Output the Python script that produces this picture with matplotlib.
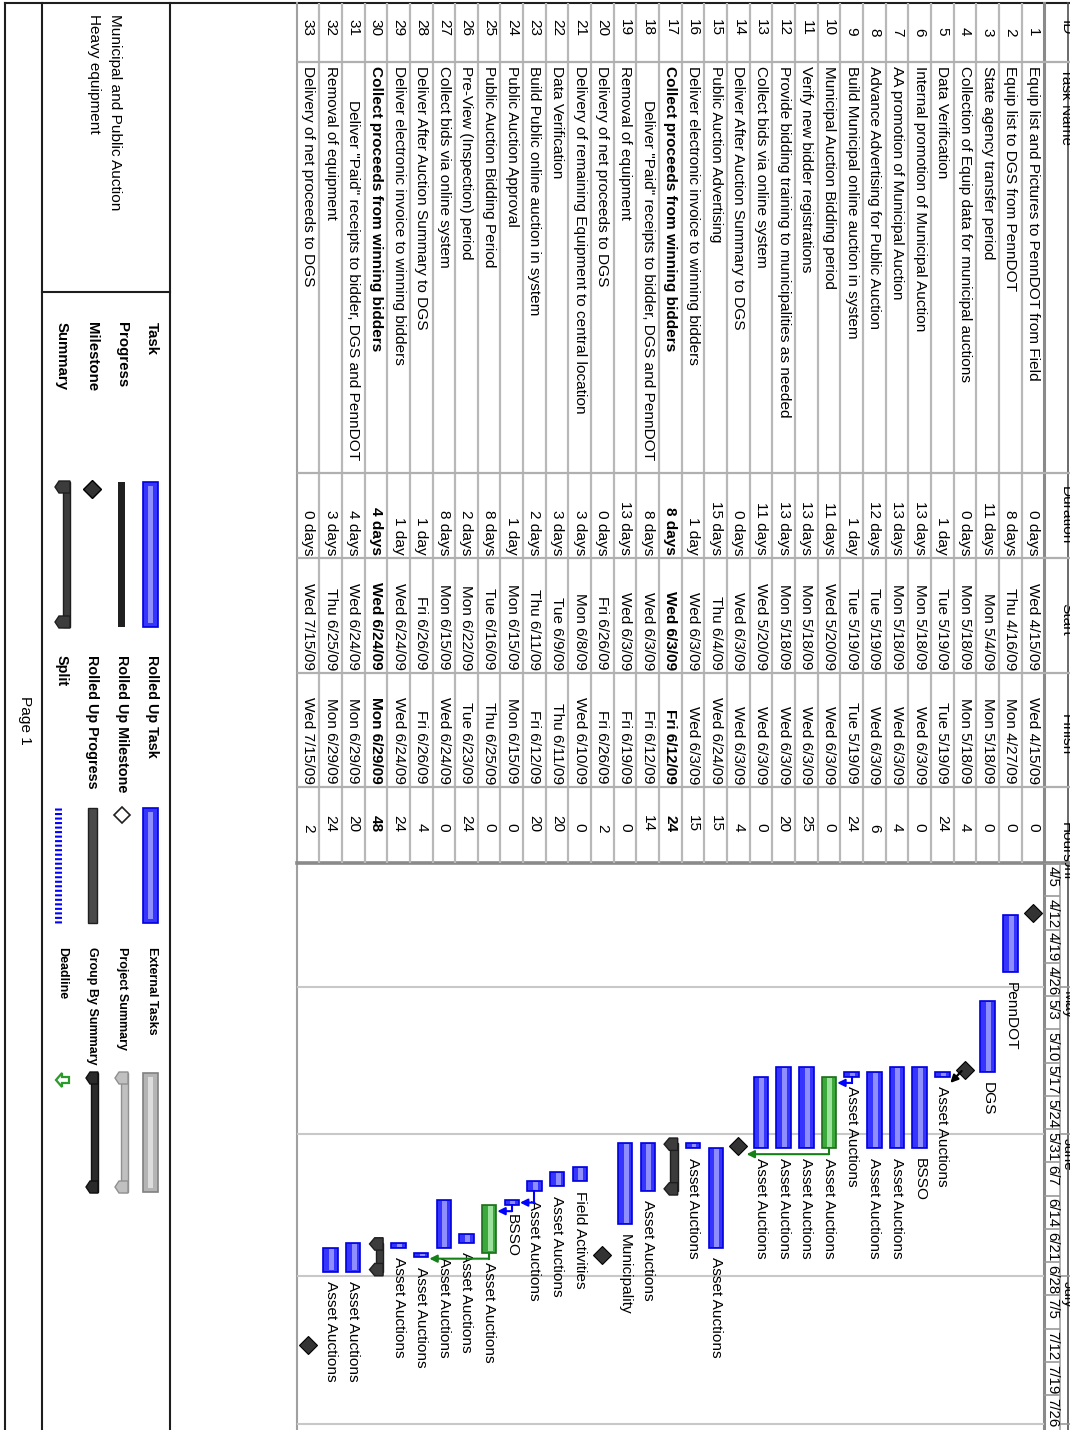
import numpy as np
import pandas as pd
import matplotlib
matplotlib.use("Agg")
import matplotlib.pyplot as plt
import matplotlib.dates as mdates
from matplotlib.patches import Polygon, Rectangle

plt.rcParams["font.family"] = ["Liberation Sans", "DejaVu Sans"]

# ---- task table ----
task_names = [
    "Equip list and Pictures to PennDOT from Field",
    "Equip list to DGS from PennDOT",
    "State agency transfer period",
    "Collection of Equip data for municipal auctions",
    "Data Verification",
    "Internal promotion of Municipal Auction",
    "AA promotion of Municipal Auction",
    "Advance Advertising for Public Auction",
    "Build Municipal online auction in system",
    "Municipal Auction Bidding period",
    "Verify new bidder registrations",
    "Provide bidding training to municipalities as needed",
    "Collect bids via online system",
    "Deliver After Auction Summary to DGS",
    "Public Auction Advertising",
    "Deliver electronic invoice to winning bidders",
    "Collect proceeds from winning bidders",
    'Deliver "Paid" receipts to bidder, DGS and PennDOT',
    "Removal of equipment",
    "Delivery of net proceeds to DGS",
    "Delivery of remaining Equipment to central location",
    "Data Verification",
    "Build Public online auction in system",
    "Public Auction Approval",
    "Public Auction Bidding Period",
    "Pre-View (Inspection) period",
    "Collect bids via online system",
    "Deliver After Auction Summary to DGS",
    "Deliver electronic invoice to winning bidders",
    "Collect proceeds from winning bidders",
    'Deliver "Paid" receipts to bidder, DGS and PennDOT',
    "Removal of equipment",
    "Delivery of net proceeds to DGS",
]
durations = ["0 days", "8 days", "11 days", "0 days", "1 day", "13 days", "13 days",
             "12 days", "1 day", "11 days", "13 days", "13 days", "11 days", "0 days",
             "15 days", "1 day", "8 days", "8 days", "13 days", "0 days", "3 days",
             "3 days", "2 days", "1 day", "8 days", "2 days", "8 days", "1 day",
             "1 day", "4 days", "4 days", "3 days", "0 days"]
starts = ["Wed 4/15/09", "Thu 4/16/09", "Mon 5/4/09", "Mon 5/18/09", "Tue 5/19/09",
          "Mon 5/18/09", "Mon 5/18/09", "Tue 5/19/09", "Tue 5/19/09", "Wed 5/20/09",
          "Mon 5/18/09", "Mon 5/18/09", "Wed 5/20/09", "Wed 6/3/09", "Thu 6/4/09",
          "Wed 6/3/09", "Wed 6/3/09", "Wed 6/3/09", "Wed 6/3/09", "Fri 6/26/09",
          "Mon 6/8/09", "Tue 6/9/09", "Thu 6/11/09", "Mon 6/15/09", "Tue 6/16/09",
          "Mon 6/22/09", "Mon 6/15/09", "Fri 6/26/09", "Wed 6/24/09", "Wed 6/24/09",
          "Wed 6/24/09", "Thu 6/25/09", "Wed 7/15/09"]
finishes = ["Wed 4/15/09", "Mon 4/27/09", "Mon 5/18/09", "Mon 5/18/09", "Tue 5/19/09",
            "Wed 6/3/09", "Wed 6/3/09", "Wed 6/3/09", "Tue 5/19/09", "Wed 6/3/09",
            "Wed 6/3/09", "Wed 6/3/09", "Wed 6/3/09", "Wed 6/3/09", "Wed 6/24/09",
            "Wed 6/3/09", "Fri 6/12/09", "Fri 6/12/09", "Fri 6/19/09", "Fri 6/26/09",
            "Wed 6/10/09", "Thu 6/11/09", "Fri 6/12/09", "Mon 6/15/09", "Thu 6/25/09",
            "Tue 6/23/09", "Wed 6/24/09", "Fri 6/26/09", "Wed 6/24/09", "Mon 6/29/09",
            "Mon 6/29/09", "Mon 6/29/09", "Wed 7/15/09"]
hours = [0, 0, 0, 4, 24, 0, 4, 6, 24, 0, 25, 20, 0, 4, 15, 15, 24, 14, 0, 2, 0,
         20, 20, 0, 0, 24, 0, 4, 24, 48, 20, 24, 2]
resources = ["", "PennDOT", "DGS", "", "Asset Auctions", "BSSO", "Asset Auctions",
             "Asset Auctions", "Asset Auctions", "Asset Auctions", "Asset Auctions",
             "Asset Auctions", "Asset Auctions", "", "Asset Auctions", "Asset Auctions",
             "", "Asset Auctions", "Municipality", "", "Field Activities",
             "Asset Auctions", "Asset Auctions", "BSSO", "Asset Auctions",
             "Asset Auctions", "Asset Auctions", "Asset Auctions", "Asset Auctions",
             "", "Asset Auctions", "Asset Auctions", ""]
summary_rows = [17, 30]
sub_rows = [18, 31]
green_rows = [10, 25]
links = [(4, 5, "#000000"), (9, 10, "#0000ff"), (10, 14, "#158015"),
         (23, 24, "#0000ff"), (24, 25, "#0000ff"), (25, 28, "#158015")]

week_labels = ["4/5", "4/12", "4/19", "4/26", "5/3", "5/10", "5/17", "5/24", "5/31",
               "6/7", "6/14", "6/21", "6/28", "7/5", "7/12", "7/19", "7/26"]
month_labels = ["April", "May", "June", "July"]
headers = ["ID", "Task Name", "Duration", "Start", "Finish", "Hours"]

project_lines = ["Municipal and Public Auction", "Heavy equipment"]
legend_cols = [["Task", "Progress", "Milestone", "Summary"],
               ["Rolled Up Task", "Rolled Up Milestone", "Rolled Up Progress", "Split"],
               ["External Tasks", "Project Summary", "Group By Summary", "Deadline"]]

# ---- derived numbers ----
n = len(task_names)
rows = np.arange(1, n + 1)


def to_num(s):
    return mdates.date2num(pd.to_datetime(s.split()[-1], format="%m/%d/%y"))


start_num = np.array([to_num(s) for s in starts])
end_num = np.array([to_num(s) for s in finishes]) + 1.0
is_ms = np.array([d.startswith("0 ") for d in durations])
week_num = np.array([mdates.date2num(pd.Timestamp(f"2009/{w}")) for w in week_labels])
month_num = np.array([mdates.date2num(pd.Timestamp(f"{m} 1 2009")) for m in month_labels])
month_end = mdates.date2num(pd.Timestamp("2009-08-01"))

# ---- page geometry (page printed landscape, shown rotated) ----
W, H = 1070, 1430
FS = 11.1
ROW0_X, ROW_PX = 1033, 22.66
CHART_Y = 863
PX_DAY = 4.75

fig = plt.figure(figsize=(W / 100, H / 100), dpi=100)


def px_axes(x0, y0, x1, y1):
    a = fig.add_axes([x0 / W, 1 - y1 / H, (x1 - x0) / W, (y1 - y0) / H])
    a.axis("off")
    return a


def row_at(xp):
    return 1 + (ROW0_X - xp) / ROW_PX


def vtext(ax, x, y, s, ha="left", **kw):
    kw.setdefault("fontsize", FS)
    return ax.text(x, y, s, rotation=-90, rotation_mode="anchor", ha=ha, va="center", **kw)


ax_bg = px_axes(0, 0, W, H)
ax_bg.set_xlim(0, W)
ax_bg.set_ylim(H, 0)

# ---- table ----
ax_tab = px_axes(297, 0, W, CHART_Y)
ax_tab.set_xlim(row_at(297), row_at(W))
ax_tab.set_ylim(CHART_Y, 0)

col_lines = [62, 473, 558, 673, 787]
ax_tab.vlines(np.arange(1.5, n), 3, CHART_Y, color="#b8b8b8", lw=1.6)
ax_tab.hlines(col_lines, row_at(297), row_at(W), color="#b0b0b0", lw=1.6)

hdr_row = row_at(1066)
for h, y, ha in zip(headers, [28, 68, 515, 619, 735, 842],
                    ["center", "left", "center", "center", "center", "center"]):
    vtext(ax_tab, hdr_row, y, h, ha=ha)

for i in range(n):
    r = rows[i]
    fw = "bold" if r in summary_rows else "normal"
    vtext(ax_tab, r, 36, str(r), ha="right")
    vtext(ax_tab, r, 100 if r in sub_rows else 66, task_names[i], fontweight=fw)
    vtext(ax_tab, r, 555, durations[i], ha="right", fontweight=fw)
    vtext(ax_tab, r, 670, starts[i], ha="right", fontweight=fw)
    vtext(ax_tab, r, 784, finishes[i], ha="right", fontweight=fw)
    vtext(ax_tab, r, 832, str(hours[i]), ha="right", fontweight=fw)

# ---- gantt ----
d0 = week_num[0]
d1 = d0 + (H - CHART_Y) / PX_DAY
ax_g = px_axes(297, CHART_Y, 1044, H)
ax_g.set_xlim(row_at(297), row_at(1044))
ax_g.set_ylim(d1, d0)

ax_g.hlines(list(month_num[1:]) + [month_end], row_at(297), row_at(1044),
            color="#c8c8c8", lw=1.5, zorder=0)

task_mask = (~is_ms) & ~np.isin(rows, summary_rows)
for green, face, edge, light in [(False, "#3535ff", "#0000dd", "#8e8eff"),
                                 (True, "#3aa83a", "#1c6e1c", "#9be09b")]:
    m = task_mask & (np.isin(rows, green_rows) == green)
    ax_g.bar(rows[m], end_num[m] - start_num[m], bottom=start_num[m], width=0.64,
             color=face, edgecolor=edge, lw=1.2, zorder=3)
    ax_g.bar(rows[m] - 0.04, end_num[m] - start_num[m] - 0.5, bottom=start_num[m] + 0.25,
             width=0.22, color=light, lw=0, zorder=4)

# summary bars
for r in summary_rows:
    i = r - 1
    ax_g.bar(r - 0.16, end_num[i] - start_num[i], bottom=start_num[i], width=0.32,
             color="#3c3c3c", edgecolor="#1e1e1e", lw=1, zorder=3)
    for d in (start_num[i] + 0.2, end_num[i] - 0.4):
        cap = Polygon([(r - 0.32, d - 1.3), (r - 0.32, d + 1.3), (r + 0.05, d + 1.3),
                       (r + 0.28, d), (r + 0.05, d - 1.3)],
                      closed=True, fc="#3c3c3c", ec="#1e1e1e", lw=1, zorder=4)
        ax_g.add_patch(cap)

# milestones
ms_pos = start_num[is_ms] + 0.5
ax_g.plot(rows[is_ms], ms_pos, ls="none", marker="D", ms=9, mfc="#333333",
          mec="#000000", mew=0.8, zorder=5)

# resource labels
for i in range(n):
    if resources[i]:
        vtext(ax_g, rows[i], end_num[i] + 2.0, resources[i], zorder=6)

# link lines
for p, s, c in links:
    if is_ms[p - 1]:
        pe = start_num[p - 1] + 0.8
        ax_g.annotate("", xy=(s - 0.35, pe + 2.5), xytext=(p + 0.15, pe),
                      arrowprops=dict(arrowstyle="-|>", color=c, lw=1.6,
                                      mutation_scale=11, shrinkA=0, shrinkB=0), zorder=6)
        continue
    pe = end_num[p - 1]
    turn = max(pe + 1.3, start_num[s - 1] + 0.5)
    ax_g.plot([p, p], [pe, turn], color=c, lw=1.5, zorder=6)
    ax_g.annotate("", xy=(s - 0.36, turn), xytext=(p, turn),
                  arrowprops=dict(arrowstyle="-|>", color=c, lw=1.5,
                                  mutation_scale=11, shrinkA=0, shrinkB=0), zorder=6)

# ---- timescale ----
ax_ts = px_axes(1044, CHART_Y, W, H)
ax_ts.set_xlim(0, W - 1044)
ax_ts.set_ylim(d1, d0)
ax_ts.hlines(week_num, 0, 16, color="#9a9a9a", lw=1.2)
ax_ts.hlines(list(month_num) + [month_end], 16, 26, color="#9a9a9a", lw=1.2)
for w, d in zip(week_labels, week_num):
    vtext(ax_ts, 8.5, d + 0.6, w, fontsize=10.8)
for m, d in zip(month_labels, month_num):
    t = vtext(ax_ts, 23.5, d + 1.0, m, fontsize=10.8)
    t.set_clip_on(True)

# ---- page frame ----
dark = "#1e1e1e"
ax_bg.plot([5, W], [3, 3], color=dark, lw=1.5)
for x in (5, 42, 170):
    ax_bg.plot([x, x], [3, H], color=dark, lw=1.5)
ax_bg.plot([42, 170], [292, 292], color=dark, lw=1.5)
ax_bg.plot([297, 297], [3, H], color="#a0a0a0", lw=1.5)
ax_bg.plot([1068, 1068], [3, H], color="#505050", lw=1.2)
ax_bg.plot([297, W], [CHART_Y, CHART_Y], color="#8a8a8a", lw=2.6)
ax_bg.plot([1044, 1044], [3, H], color="#8a8a8a", lw=2.2)
ax_bg.plot([1060, 1060], [CHART_Y, H], color="#9a9a9a", lw=1.1)

# project title and page number
for x, s in zip([115, 94], project_lines):
    vtext(ax_bg, x, 14, s)
vtext(ax_bg, 25, 720, "Page 1", ha="center")

# ---- legend ----
lab_x = [152, 122, 92, 62]
col_y = [322, 655, 947]
col_fs = [10.8, 10.4, 9.0]
for col, y0, fs in zip(legend_cols, col_y, col_fs):
    for s, x in zip(col, lab_x):
        vtext(ax_bg, x, y0, s, fontweight="bold", fontsize=fs)


def leg_summary(ya, yb, xr, xl, face, edge):
    ax_bg.add_patch(Rectangle((xr - 7, ya), 7, yb - ya, fc=face, ec=edge, lw=1))
    for yc in (ya + 5, yb - 5):
        ax_bg.add_patch(Polygon([(xr, yc - 6), (xr, yc + 6), (xl + 4, yc + 6), (xl, yc),
                                 (xl + 4, yc - 6)], closed=True, fc=face, ec=edge, lw=1))


# column 1
ax_bg.add_patch(Rectangle((143, 482), 15, 145, fc="#3535ff", ec="#0000dd", lw=1.2))
ax_bg.add_patch(Rectangle((148, 486), 5, 137, fc="#8e8eff", lw=0))
ax_bg.add_patch(Rectangle((118, 482), 7, 145, fc="#202020", lw=0))
ax_bg.plot([92], [489], marker="D", ms=9, mfc="#333333", mec="#000000")
leg_summary(482, 627, 70, 55, "#3c3c3c", "#1e1e1e")
# column 2
ax_bg.add_patch(Rectangle((143, 808), 15, 115, fc="#3535ff", ec="#0000dd", lw=1.2))
ax_bg.add_patch(Rectangle((148, 812), 5, 107, fc="#8e8eff", lw=0))
ax_bg.plot([122], [815], marker="D", ms=8, mfc="white", mec="#202020", mew=1.2)
ax_bg.add_patch(Rectangle((88, 808), 9, 115, fc="#4a4a4a", ec="#202020", lw=1))
ax_bg.plot([58, 58], [808, 923], color="#0000ff", lw=5, dashes=(0.3, 0.35))
# column 3
ax_bg.add_patch(Rectangle((143, 1073), 15, 119, fc="#b4b4b4", ec="#808080", lw=1.2))
ax_bg.add_patch(Rectangle((148, 1077), 5, 111, fc="#dcdcdc", lw=0))
leg_summary(1073, 1192, 128, 115, "#c0c0c0", "#909090")
leg_summary(1073, 1192, 98, 86, "#2a2a2a", "#101010")
ax_bg.add_patch(Polygon([(56, 1080), (62, 1073), (62, 1077), (69, 1077), (69, 1083),
                         (62, 1083), (62, 1087)], closed=True, fc="white",
                        ec="#2a9a2a", lw=1.6))

fig.savefig("out.png", dpi=100)
